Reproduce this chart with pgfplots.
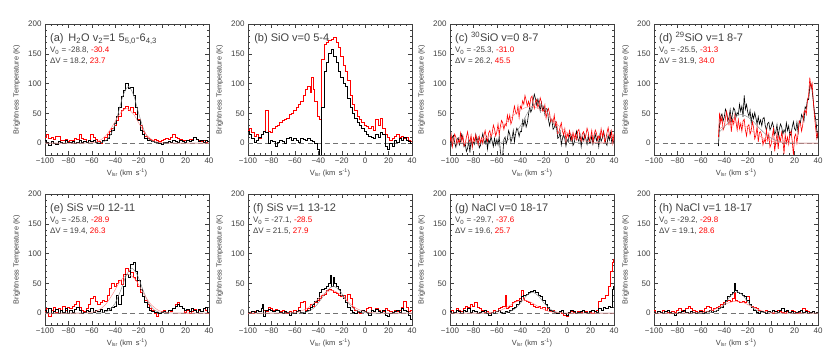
\documentclass[border=0pt]{standalone}
\usepackage{pgfplots}
\pgfplotsset{compat=1.18}
\usepackage{fontspec}
\setmainfont{Liberation Sans}
\definecolor{fitk}{gray}{0.55}
\definecolor{fitr}{rgb}{1,0.55,0.55}
\definecolor{axc}{gray}{0.25}
\pgfplotsset{
  panel/.style={
    scale only axis, width=164pt, height=131pt, anchor=south west,
    xmin=-100, xmax=40, ymin=-20, ymax=200,
    xtick={-100,-80,-60,-40,-20,0,20,40},
    xticklabels={−100,−80,−60,−40,−20,0,20,40},
    ytick={0,50,100,150,200},
    yticklabels={0,50,100,150,200},
    minor x tick num=3, minor y tick num=4,
    tick align=inside,
    major tick length=4pt, minor tick length=2.2pt,
    axis line style={axc, line width=0.5pt},
    every tick/.style={axc, line width=0.4pt},
    tick label style={font=\fontsize{8}{9}\selectfont, text=axc},
    xticklabel style={yshift=1pt},
    xlabel={V\textsubscript{lsr} (km\, s\textsuperscript{-1})},
    ylabel={Brightness Temperature (K)},
    every axis x label/.style={at={(axis description cs:0.5,-0.135)}, anchor=center, font=\fontsize{7.5}{9}\selectfont, text=axc},
    every axis y label/.style={at={(axis description cs:-0.172,0.5)}, rotate=90, anchor=center, font=\fontsize{7.3}{9}\selectfont, text=axc},
    clip=true,
  },
  stepk/.style={const plot mark mid, black, line width=0.7pt, no marks},
  stepr/.style={const plot mark mid, red, line width=0.7pt, no marks},
  noisek/.style={black, line width=0.6pt, no marks},
  noiser/.style={red, line width=0.6pt, no marks},
  fk/.style={smooth, fitk, line width=0.45pt, no marks},
  fr/.style={smooth, fitr, line width=0.45pt, no marks},
  zl/.style={black!55, dashed, dash pattern=on 5pt off 3.5pt, line width=0.45pt, no marks},
}
\newcommand{\tA}{\fontsize{11}{12}\selectfont}
\newcommand{\tB}{\fontsize{8}{9}\selectfont}
\newcommand{\lines}[5]{%
  \node[anchor=base west, font=\tA, text=axc, inner xsep=0pt] at (rel axis cs:0.03,0.865) {#1};
  \node[anchor=base west, font=\tB, text=axc, inner xsep=0pt] at (rel axis cs:0.03,0.78) {V\textsubscript{0} = #2, \textcolor{red}{#3}};
  \node[anchor=base west, font=\tB, text=axc, inner xsep=0pt] at (rel axis cs:0.03,0.70) {ΔV = #4, \textcolor{red}{#5}};
}
\begin{document}
\begin{tikzpicture}
\path (0,0) rectangle (830pt,363pt);
% ---------------- (a)
\begin{axis}[panel, at={(45pt,208pt)}]
\addplot[zl] coordinates {(-100,0) (40,0)};
\addplot[stepr] coordinates {(-100,10) (-98,15) (-96,8) (-94,10) (-92,6) (-90,12) (-88,11) (-86,5) (-84,4) (-82,6) (-80,3) (-78,5) (-76,4) (-74,8) (-72,7) (-70,14) (-68,8) (-66,6) (-64,2) (-62,5) (-60,15) (-58,10) (-56,6) (-54,3) (-52,0) (-50,5) (-48,10) (-46,15) (-44,20) (-42,25) (-40,30) (-38,38) (-36,45) (-34,55) (-32,58) (-30,62) (-28,55) (-26,60) (-24,52) (-22,48) (-20,40) (-18,30) (-16,20) (-14,12) (-12,8) (-10,6) (-8,5) (-6,7) (-4,4) (-2,3) (0,5) (2,6) (4,8) (6,7) (8,10) (10,14) (12,10) (14,8) (16,6) (18,5) (20,4) (22,5) (24,6) (26,7) (28,10) (30,6) (32,5) (34,3) (36,4) (38,2) (40,3)};
\addplot[stepk] coordinates {(-100,5) (-98,2) (-96,-3) (-94,3) (-92,0) (-90,-2) (-88,3) (-86,2) (-84,0) (-82,4) (-80,2) (-78,1) (-76,3) (-74,0) (-72,2) (-70,4) (-68,1) (-66,3) (-64,2) (-62,5) (-60,3) (-58,4) (-56,1) (-54,0) (-52,2) (-50,4) (-48,5) (-46,8) (-44,14) (-42,22) (-40,33) (-38,45) (-36,60) (-34,78) (-32,88) (-30,100) (-28,92) (-26,93) (-24,80) (-22,60) (-20,38) (-18,22) (-16,14) (-14,8) (-12,5) (-10,4) (-8,3) (-6,2) (-4,1) (-2,0) (0,-2) (2,1) (4,2) (6,3) (8,2) (10,4) (12,3) (14,2) (16,4) (18,3) (20,2) (22,4) (24,3) (26,5) (28,9) (30,6) (32,3) (34,5) (36,2) (38,4) (40,3)};
\addplot[fk] coordinates {(-100,0) (-56.1,0.2) (-51.55,1.2) (-47.0,5.9) (-42.45,20.0) (-37.9,47.5) (-33.35,79.9) (-28.8,95) (-24.25,79.9) (-19.7,47.5) (-15.15,20.0) (-10.6,5.9) (-6.05,1.2) (-1.5,0.2) (40,0)};
\addplot[fr] coordinates {(-100,0) (-65.95,0.1) (-60.03,0.8) (-54.1,3.6) (-48.18,12.2) (-42.25,29) (-36.33,48.8) (-30.4,58) (-24.48,48.8) (-18.55,29) (-12.63,12.2) (-6.7,3.6) (-0.78,0.8) (5.15,0.1) (40,0)};
\lines{(a)\, H\textsubscript{2}O v\textsubscript{2}=1 5\textsubscript{5,0}-6\textsubscript{4,3}}{-28.8}{-30.4}{18.2}{23.7}
\end{axis}
% ---------------- (b)
\begin{axis}[panel, at={(248pt,208pt)}]
\addplot[zl] coordinates {(-100,0) (40,0)};
\addplot[stepr] coordinates {(-100,22) (-98,25) (-96,18) (-94,12) (-92,15) (-90,8) (-88,15) (-86,20) (-84,55) (-82,20) (-80,18) (-78,25) (-76,28) (-74,30) (-72,35) (-70,38) (-68,40) (-66,42) (-64,48) (-62,50) (-60,55) (-58,60) (-56,65) (-54,70) (-52,80) (-50,90) (-48,95) (-46,85) (-45,110) (-44,90) (-42,70) (-40,45) (-38,40) (-36,140) (-34,165) (-32,170) (-30,172) (-28,175) (-26,178) (-24,170) (-22,160) (-20,145) (-18,130) (-16,120) (-14,105) (-12,80) (-10,65) (-8,55) (-6,45) (-4,40) (-2,35) (0,30) (2,28) (4,25) (6,28) (8,22) (10,40) (12,30) (14,42) (16,25) (18,15) (20,10) (22,5) (24,8) (26,12) (28,15) (30,10) (32,12) (34,8) (36,10) (38,5) (40,3)};
\addplot[stepk] coordinates {(-100,20) (-98,15) (-96,8) (-94,2) (-92,5) (-90,10) (-88,15) (-86,20) (-84,18) (-82,0) (-80,5) (-78,3) (-76,-5) (-74,2) (-72,5) (-70,3) (-68,0) (-66,8) (-64,10) (-62,5) (-60,8) (-58,5) (-56,2) (-54,8) (-52,6) (-50,5) (-48,8) (-46,5) (-44,3) (-42,0) (-40,-10) (-38,-30) (-36,60) (-34,120) (-32,135) (-30,150) (-28,157) (-26,145) (-24,135) (-22,120) (-20,110) (-18,100) (-16,95) (-14,75) (-12,60) (-10,50) (-8,42) (-6,35) (-4,30) (-2,25) (0,20) (2,15) (4,12) (6,10) (8,8) (10,15) (12,10) (14,18) (16,15) (18,-5) (20,-10) (22,0) (24,-5) (26,5) (28,2) (30,8) (32,5) (34,10) (36,5) (38,3) (40,0)};
\node[anchor=base west, font=\tA, text=axc, inner xsep=0pt] at (rel axis cs:0.037,0.865) {(b) SiO v=0 5-4};
\end{axis}
% ---------------- (c)
\begin{axis}[panel, at={(450pt,208pt)}]
\addplot[zl] coordinates {(-100,0) (40,0)};
\addplot[noisek] coordinates {(-100,5) (-99,-4) (-98,10) (-97,13) (-96,0) (-95,-7) (-94,6) (-93,9) (-92,-3) (-91,3)
(-90,15) (-89,8) (-88,-6) (-87,-1) (-86,-14) (-85,-9) (-84,4) (-83,-16) (-82,7) (-81,-5)
(-80,2) (-79,-2) (-78,14) (-77,1) (-76,9) (-75,-8) (-74,-4) (-73,7) (-72,16) (-71,4)
(-70,-1) (-69,10) (-68,-10) (-67,6) (-66,0) (-65,11) (-64,3) (-63,-6) (-62,8) (-61,-3)
(-60,6) (-59,-3) (-58,11) (-57,-15) (-56,-25) (-55,-20) (-54,6) (-53,10) (-52,-1) (-51,6)
(-50,21) (-49,15) (-48,2) (-47,8) (-46,21) (-45,2) (-44,16) (-43,25) (-42,21) (-41,11)
(-40,20) (-39,19) (-38,38) (-37,29) (-36,40) (-35,27) (-34,34) (-33,48) (-32,60) (-31,52)
(-30,57) (-29,73) (-28,82) (-27,74) (-26,64) (-25,74) (-24,65) (-23,54) (-22,68) (-21,55)
(-20,61) (-19,48) (-18,58) (-17,57) (-16,40) (-15,29) (-14,39) (-13,39) (-12,23) (-11,26)
(-10,35) (-9,25) (-8,8) (-7,10) (-6,19) (-5,-3) (-4,8) (-3,14) (-2,7) (-1,-5)
(0,6) (1,2) (2,18) (3,5) (4,13) (5,-4) (6,0) (7,11) (8,20) (9,8)
(10,3) (11,14) (12,-6) (13,10) (14,4) (15,15) (16,7) (17,-2) (18,12) (19,1)
(20,1) (21,12) (22,-2) (23,7) (24,15) (25,4) (26,10) (27,-6) (28,14) (29,3)
(30,8) (31,20) (32,11) (33,0) (34,-4) (35,13) (36,5) (37,18) (38,2) (39,6) (40,-1)};
\addplot[noiser] coordinates {(-100,2) (-99,14) (-98,-6) (-97,7) (-96,15) (-95,10) (-94,-2) (-93,5) (-92,1) (-91,17)
(-90,4) (-89,12) (-88,-5) (-87,-1) (-86,10) (-85,19) (-84,7) (-83,2) (-82,13) (-81,-7)
(-80,9) (-79,3) (-78,14) (-77,6) (-76,-3) (-75,11) (-74,0) (-73,8) (-72,-1) (-71,13)
(-70,21) (-69,9) (-68,3) (-67,17) (-66,21) (-65,10) (-64,17) (-63,30) (-62,24) (-61,12)
(-60,19) (-59,32) (-58,14) (-57,28) (-56,38) (-55,34) (-54,23) (-53,32) (-52,29) (-51,47)
(-50,37) (-49,47) (-48,32) (-47,38) (-46,51) (-45,62) (-44,52) (-43,49) (-42,62) (-41,43)
(-40,62) (-39,58) (-38,71) (-37,65) (-36,80) (-35,72) (-34,62) (-33,70) (-32,62) (-31,76)
(-30,79) (-29,66) (-28,58) (-27,70) (-26,73) (-25,60) (-24,65) (-23,76) (-22,69) (-21,54)
(-20,55) (-19,64) (-18,42) (-17,52) (-16,58) (-15,50) (-14,36) (-13,40) (-12,34) (-11,47)
(-10,29) (-9,35) (-8,16) (-7,18) (-6,27) (-5,34) (-4,20) (-3,14) (-2,24) (-1,3)
(0,16) (1,10) (2,21) (3,13) (4,4) (5,18) (6,7) (7,15) (8,6) (9,20)
(10,23) (11,10) (12,3) (13,16) (14,19) (15,7) (16,13) (17,25) (18,18) (19,4)
(20,9) (21,21) (22,1) (23,14) (24,22) (25,17) (26,5) (27,12) (28,8) (29,24)
(30,11) (31,19) (32,2) (33,6) (34,17) (35,26) (36,14) (37,9) (38,20) (39,0) (40,16)};
\addplot[fk] coordinates {(-100,0) (-64.6,0.1) (-58.05,0.9) (-51.5,4.3) (-44.95,14.3) (-38.4,34) (-31.85,57.2) (-25.3,68) (-18.75,57.2) (-12.2,34) (-5.65,14.3) (0.9,4.3) (7.45,0.9) (14.0,0.1) (40,0)};
\addplot[fr] coordinates {(-99.25,0.1) (-87.88,0.8) (-76.5,3.9) (-65.13,13.0) (-53.75,31) (-42.38,52.1) (-31.0,62) (-19.63,52.1) (-8.25,31) (3.13,13.0) (14.5,3.9) (25.88,0.8) (37.25,0.1) (40,0)};
\lines{(c) \textsuperscript{30}SiO v=0 8-7}{-25.3}{-31.0}{26.2}{45.5}
\end{axis}
% ---------------- (d)
\begin{axis}[panel, at={(654pt,208pt)}]
\addplot[zl] coordinates {(-100,0) (40,0)};
\addplot[noisek] coordinates {(-45,-5) (-44,31) (-43,45) (-42,49) (-41,37) (-40,44) (-39,57) (-38,51) (-37,37) (-36,43) (-35,56)
(-34,37) (-33,50) (-32,59) (-31,55) (-30,44) (-29,51) (-28,48) (-27,65) (-26,53) (-25,62)
(-24,44) (-23,80) (-22,57) (-21,65) (-20,52) (-19,45) (-18,55) (-17,34) (-16,49) (-15,41)
(-14,51) (-13,42) (-12,32) (-11,44) (-10,32) (-9,39) (-8,29) (-7,41) (-6,43) (-5,29)
(-4,21) (-3,33) (-2,35) (-1,22) (0,27) (1,35) (2,28) (3,14) (4,19) (5,31)
(6,11) (7,24) (8,32) (9,27) (10,15) (11,22) (12,18) (13,34) (14,21) (15,29)
(16,12) (17,16) (18,27) (19,36) (20,24) (21,21) (22,35) (23,18) (24,37) (25,34)
(26,48) (27,43) (28,37) (29,61) (30,58) (31,74) (32,73) (33,95) (34,100) (35,88)
(36,70) (37,52) (38,40) (39,22) (40,8)};
\addplot[noiser] coordinates {(-45,10) (-44,51) (-43,34) (-42,44) (-41,22) (-40,27) (-39,42) (-38,53) (-37,38) (-36,31) (-35,45)
(-34,19) (-33,40) (-32,32) (-31,47) (-30,36)
(-29,22) (-28,39) (-27,24) (-26,33) (-25,20) (-24,37) (-23,40) (-22,22) (-21,12) (-20,28)
(-19,31) (-18,15) (-17,21) (-16,36) (-15,26) (-14,7) (-13,13) (-12,28) (-11,2) (-10,18)
(-9,19) (-8,12) (-7,-3) (-6,6) (-5,1) (-4,22) (-3,5) (-2,15) (-1,-7) (0,-2)
(1,13) (2,24) (3,-14) (4,2) (5,16) (6,-10) (7,11) (8,3) (9,18) (10,7)
(11,-18) (12,14) (13,0) (14,10) (15,-2) (16,16) (17,20) (18,3) (19,-20) (20,11)
(21,15) (22,0) (23,16) (24,37) (25,33) (26,20) (27,31) (28,52)
(29,55) (30,48) (31,72) (32,80) (33,110) (34,92) (35,100) (36,70) (37,45) (38,25) (39,8) (40,18)};
\addplot[fk] coordinates {(-45,17) (-41.45,24) (-33.48,40.4) (-25.5,48) (-17.53,40.4) (-9.55,24) (-1.58,10.1) (6.4,3.0) (14.38,0.6) (22.35,0.1) (40,0)};
\addplot[fr] coordinates {(-45,22.3) (-39.8,29.4) (-31.3,35) (-22.8,29.4) (-14.3,17.5) (-5.8,7.4) (2.7,2.2) (11.2,0.5) (19.7,0.1) (40,0)};
\lines{(d) \textsuperscript{29}SiO v=1 8-7}{-25.5}{-31.3}{31.9}{34.0}
\end{axis}
% ---------------- (e)
\begin{axis}[panel, at={(45pt,38pt)}]
\addplot[zl] coordinates {(-100,0) (40,0)};
\addplot[stepr] coordinates {(-100,3) (-98,8) (-96,-5) (-94,5) (-92,10) (-90,2) (-88,8) (-86,4) (-84,12) (-82,5) (-80,10) (-78,8) (-76,12) (-74,15) (-72,20) (-70,10) (-68,5) (-66,3) (-64,8) (-62,15) (-60,25) (-58,28) (-56,20) (-54,15) (-52,18) (-50,22) (-48,20) (-46,30) (-44,42) (-42,50) (-40,45) (-38,50) (-36,55) (-34,48) (-32,65) (-30,75) (-28,70) (-26,68) (-24,60) (-22,55) (-20,45) (-18,35) (-16,28) (-14,22) (-12,15) (-10,8) (-8,5) (-6,0) (-4,-5) (-2,0) (0,3) (2,5) (4,2) (6,4) (8,3) (10,8) (12,15) (14,18) (16,12) (18,8) (20,2) (22,5) (24,0) (26,3) (28,6) (30,2) (32,5) (34,3) (36,8) (38,5) (40,0)};
\addplot[stepk] coordinates {(-100,5) (-98,2) (-96,8) (-94,0) (-92,3) (-90,6) (-88,0) (-86,5) (-84,2) (-82,8) (-80,0) (-78,4) (-76,2) (-74,6) (-72,10) (-70,4) (-68,0) (-66,2) (-64,5) (-62,3) (-60,8) (-58,2) (-56,5) (-54,3) (-52,6) (-50,2) (-48,4) (-46,8) (-44,5) (-42,10) (-40,12) (-38,30) (-36,15) (-34,30) (-32,45) (-30,65) (-28,60) (-26,82) (-24,86) (-22,70) (-20,55) (-18,40) (-16,28) (-14,18) (-12,10) (-10,5) (-8,3) (-6,2) (-4,1) (-2,0) (0,2) (2,3) (4,1) (6,4) (8,5) (10,8) (12,12) (14,15) (16,12) (18,8) (20,4) (22,6) (24,3) (26,8) (28,5) (30,2) (32,6) (34,3) (36,8) (38,10) (40,2)};
\addplot[fk] coordinates {(-100,0) (-54.9,0.2) (-50.05,1.0) (-45.2,4.7) (-40.35,15.8) (-35.5,37.5) (-30.65,63.1) (-25.8,75) (-20.95,63.1) (-16.1,37.5) (-11.25,15.8) (-6.4,4.7) (-1.55,1.0) (3.3,0.2) (40,0)};
\addplot[fr] coordinates {(-100,0) (-68.35,0.1) (-61.78,0.9) (-55.2,4.1) (-48.63,13.7) (-42.05,32.5) (-35.48,54.7) (-28.9,65) (-22.33,54.7) (-15.75,32.5) (-9.18,13.7) (-2.6,4.1) (3.98,0.9) (10.55,0.1) (40,0)};
\lines{(e) SiS v=0 12-11}{-25.8}{-28.9}{19.4}{26.3}
\end{axis}
% ---------------- (f)
\begin{axis}[panel, at={(248pt,38pt)}]
\addplot[zl] coordinates {(-100,0) (40,0)};
\addplot[stepr] coordinates {(-100,0) (-98,2) (-96,0) (-94,3) (-92,5) (-90,3) (-88,8) (-86,5) (-84,3) (-82,10) (-80,8) (-78,5) (-76,7) (-74,5) (-72,3) (-70,5) (-68,2) (-66,0) (-64,3) (-62,2) (-60,5) (-58,3) (-56,10) (-54,18) (-52,20) (-50,5) (-48,8) (-46,15) (-44,12) (-42,18) (-40,22) (-38,25) (-36,30) (-34,32) (-32,38) (-30,40) (-28,38) (-26,35) (-24,33) (-22,30) (-20,28) (-18,30) (-16,22) (-14,32) (-12,25) (-10,10) (-8,5) (-6,2) (-4,0) (-2,5) (0,3) (2,8) (4,10) (6,5) (8,3) (10,8) (12,5) (14,2) (16,3) (18,8) (20,5) (22,3) (24,2) (26,5) (28,3) (30,5) (32,10) (34,20) (36,10) (38,3) (40,5)};
\addplot[stepk] coordinates {(-100,2) (-98,0) (-96,3) (-94,2) (-92,5) (-90,3) (-88,8) (-87,15) (-86,-5) (-84,5) (-82,6) (-80,4) (-78,3) (-76,5) (-74,4) (-72,2) (-70,0) (-68,3) (-66,1) (-64,-3) (-62,2) (-60,0) (-58,3) (-56,5) (-54,2) (-52,0) (-50,3) (-48,5) (-46,10) (-44,15) (-42,20) (-40,25) (-38,35) (-36,40) (-34,42) (-32,45) (-30,50) (-29,63) (-28,45) (-27,60) (-26,50) (-24,45) (-22,40) (-20,30) (-18,25) (-16,18) (-14,10) (-12,5) (-10,2) (-8,0) (-6,3) (-4,1) (-2,5) (0,3) (2,2) (4,-3) (6,5) (8,3) (10,6) (12,3) (14,2) (16,5) (18,-3) (20,-5) (22,0) (24,2) (26,3) (28,5) (30,2) (32,8) (34,5) (36,3) (38,-3) (40,-10)};
\addplot[fk] coordinates {(-100,0) (-59.35,0.1) (-53.98,0.6) (-48.6,2.8) (-43.23,9.5) (-37.85,22.5) (-32.48,37.8) (-27.1,45) (-21.73,37.8) (-16.35,22.5) (-10.98,9.5) (-5.6,2.8) (-0.23,0.6) (5.15,0.1) (40,0)};
\addplot[fr] coordinates {(-100,0) (-70.35,0.1) (-63.38,0.5) (-56.4,2.4) (-49.43,8.0) (-42.45,19) (-35.48,32.0) (-28.5,38) (-21.53,32.0) (-14.55,19) (-7.58,8.0) (-0.6,2.4) (6.38,0.5) (13.35,0.1) (40,0)};
\lines{(f) SiS v=1 13-12}{-27.1}{-28.5}{21.5}{27.9}
\end{axis}
% ---------------- (g)
\begin{axis}[panel, at={(450pt,38pt)}]
\addplot[zl] coordinates {(-100,0) (40,0)};
\addplot[stepr] coordinates {(-100,3) (-98,5) (-96,2) (-94,8) (-92,5) (-90,3) (-88,8) (-86,12) (-84,10) (-82,15) (-80,12) (-78,18) (-76,10) (-74,8) (-72,5) (-70,2) (-68,3) (-66,0) (-64,2) (-62,5) (-60,3) (-58,8) (-56,10) (-54,12) (-52,30) (-51,8) (-50,10) (-48,12) (-46,18) (-44,20) (-42,22) (-40,25) (-38,38) (-37,25) (-36,22) (-34,20) (-32,18) (-30,15) (-28,12) (-26,10) (-24,12) (-22,8) (-20,10) (-18,5) (-16,8) (-14,3) (-12,5) (-10,2) (-8,0) (-6,3) (-4,0) (-2,-3) (0,-5) (2,0) (4,3) (6,2) (8,0) (10,3) (12,2) (14,5) (16,3) (18,0) (20,2) (22,0) (24,3) (26,5) (28,20) (30,25) (32,25) (34,30) (36,45) (38,70) (39,85) (40,90)};
\addplot[stepk] coordinates {(-100,3) (-98,0) (-96,2) (-94,5) (-92,3) (-90,0) (-88,5) (-86,3) (-84,8) (-82,2) (-80,5) (-78,3) (-76,0) (-74,2) (-72,3) (-70,5) (-68,0) (-66,-3) (-64,2) (-62,0) (-60,3) (-58,5) (-56,2) (-54,0) (-52,3) (-50,2) (-48,5) (-46,8) (-44,10) (-42,15) (-40,20) (-38,28) (-36,30) (-34,32) (-32,35) (-30,36) (-28,38) (-26,35) (-24,30) (-22,28) (-20,22) (-18,15) (-16,10) (-14,5) (-12,3) (-10,2) (-8,0) (-6,3) (-4,5) (-2,0) (0,-3) (2,2) (4,5) (6,3) (8,0) (10,2) (12,3) (14,5) (16,2) (18,0) (20,3) (22,5) (24,3) (26,2) (28,8) (30,5) (32,10) (34,8) (36,12) (38,10) (39,40) (40,45)};
\addplot[fk] coordinates {(-100,0) (-59.1,0.1) (-54.2,0.5) (-49.3,2.2) (-44.4,7.4) (-39.5,17.5) (-34.6,29.4) (-29.7,35) (-24.8,29.4) (-19.9,17.5) (-15.0,7.4) (-10.1,2.2) (-5.2,0.5) (-0.3,0.1) (40,0)};
\addplot[fr] coordinates {(-100,0) (-76.15,0.0) (-69.73,0.3) (-63.3,1.4) (-56.88,4.6) (-50.45,11) (-44.03,18.5) (-37.6,22) (-31.18,18.5) (-24.75,11) (-18.33,4.6) (-11.9,1.4) (-5.48,0.3) (0.95,0.0) (40,0)};
\lines{(g) NaCl v=0 18-17}{-29.7}{-37.6}{19.6}{25.7}
\end{axis}
% ---------------- (h)
\begin{axis}[panel, at={(654pt,38pt)}]
\addplot[zl] coordinates {(-100,0) (40,0)};
\addplot[stepr] coordinates {(-100,5) (-98,0) (-96,3) (-94,2) (-92,5) (-90,3) (-88,2) (-86,0) (-84,3) (-82,2) (-80,5) (-78,8) (-76,5) (-74,3) (-72,8) (-70,12) (-68,8) (-66,5) (-64,3) (-62,2) (-60,5) (-58,3) (-56,8) (-54,12) (-52,10) (-50,5) (-48,8) (-46,10) (-44,12) (-42,15) (-40,18) (-38,20) (-36,22) (-34,20) (-32,25) (-31,35) (-30,22) (-28,20) (-26,18) (-24,20) (-22,18) (-20,28) (-18,15) (-16,12) (-14,10) (-12,8) (-10,5) (-8,3) (-6,2) (-4,5) (-2,3) (0,2) (2,0) (4,3) (6,5) (8,3) (10,2) (12,0) (14,3) (16,2) (18,5) (20,3) (22,0) (24,2) (26,5) (28,8) (30,5) (32,3) (34,2) (36,3) (38,0) (40,2)};
\addplot[stepk] coordinates {(-100,2) (-98,0) (-96,3) (-94,2) (-92,0) (-90,3) (-88,5) (-86,2) (-84,0) (-82,-3) (-80,0) (-78,2) (-76,3) (-74,5) (-72,2) (-70,0) (-68,3) (-66,2) (-64,0) (-62,2) (-60,3) (-58,0) (-56,2) (-54,3) (-52,5) (-50,2) (-48,3) (-46,5) (-44,8) (-42,10) (-40,15) (-38,22) (-36,28) (-34,32) (-32,35) (-31,50) (-30,38) (-28,35) (-26,33) (-24,30) (-22,28) (-20,22) (-18,15) (-16,10) (-14,5) (-12,2) (-10,0) (-8,3) (-6,2) (-4,0) (-2,3) (0,2) (2,5) (4,3) (6,2) (8,5) (10,8) (12,3) (14,5) (16,2) (18,3) (20,0) (22,2) (24,3) (26,5) (28,2) (30,3) (32,0) (34,2) (36,3) (38,0) (40,2)};
\addplot[fk] coordinates {(-100,0) (-57.85,0.1) (-53.08,0.5) (-48.3,2.3) (-43.53,7.6) (-38.75,18) (-33.98,30.3) (-29.2,36) (-24.43,30.3) (-19.65,18) (-14.88,7.6) (-10.1,2.3) (-5.33,0.5) (-0.55,0.1) (40,0)};
\addplot[fr] coordinates {(-100,0) (-72.7,0.0) (-65.55,0.3) (-58.4,1.3) (-51.25,4.2) (-44.1,10) (-36.95,16.8) (-29.8,20) (-22.65,16.8) (-15.5,10) (-8.35,4.2) (-1.2,1.3) (5.95,0.3) (13.1,0.0) (40,0)};
\lines{(h) NaCl v=1 18-17}{-29.2}{-29.8}{19.1}{28.6}
\end{axis}
\end{tikzpicture}
\end{document}
